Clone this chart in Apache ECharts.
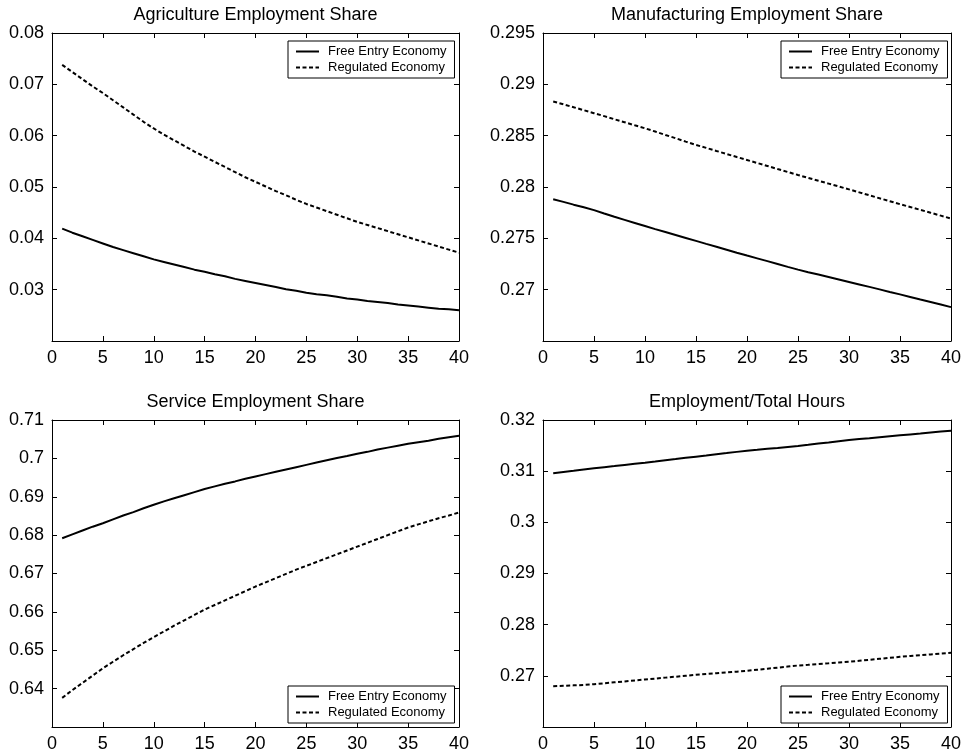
<!DOCTYPE html>
<html>
<head>
<meta charset="utf-8">
<script src="https://cdn.jsdelivr.net/npm/echarts@6/dist/echarts.min.js"></script>
<style>
  html, body { margin: 0; padding: 0; background: #fff; }
  #main { width: 968px; height: 754px; }
</style>
</head>
<body>
<div id="main"></div>
<script>
// periods 1..40
var periods = [1, 2, 3, 4, 5, 6, 7, 8, 9, 10, 11, 12, 13, 14, 15, 16, 17, 18, 19, 20,
    21, 22, 23, 24, 25, 26, 27, 28, 29, 30, 31, 32, 33, 34, 35, 36, 37, 38, 39, 40];
var seriesNames = ['Free Entry Economy', 'Regulated Economy'];
var panelTitles = ['Agriculture Employment Share', 'Manufacturing Employment Share',
    'Service Employment Share', 'Employment/Total Hours'];

// agriculture
var agriFree = [0.0419, 0.0411, 0.0404, 0.0397, 0.0390, 0.0383, 0.0377, 0.0371, 0.0365, 0.0359,
    0.0354, 0.0349, 0.0344, 0.0339, 0.0335, 0.0330, 0.0326, 0.0321, 0.0317, 0.0313,
    0.0309, 0.0305, 0.0301, 0.0298, 0.0294, 0.0291, 0.0289, 0.0286, 0.0283, 0.0281,
    0.0278, 0.0276, 0.0274, 0.0271, 0.0269, 0.0267, 0.0265, 0.0263, 0.0262, 0.0260];
var agriReg = [0.0738, 0.0724, 0.0710, 0.0696, 0.0683, 0.0669, 0.0655, 0.0641, 0.0627, 0.0614,
    0.0602, 0.0591, 0.0580, 0.0569, 0.0559, 0.0549, 0.0539, 0.0529, 0.0519, 0.0510,
    0.0501, 0.0492, 0.0484, 0.0475, 0.0467, 0.0460, 0.0453, 0.0446, 0.0439, 0.0432,
    0.0426, 0.0420, 0.0414, 0.0408, 0.0402, 0.0396, 0.0390, 0.0384, 0.0378, 0.0372];

// manufacturing
var manuFree = [0.27880, 0.27855, 0.27828, 0.27802, 0.27775, 0.27742, 0.27710, 0.27680, 0.27650, 0.27620,
    0.27590, 0.27562, 0.27533, 0.27504, 0.27475, 0.27446, 0.27418, 0.27389, 0.27360, 0.27332,
    0.27305, 0.27278, 0.27250, 0.27222, 0.27195, 0.27170, 0.27147, 0.27123, 0.27099, 0.27075,
    0.27051, 0.27027, 0.27003, 0.26978, 0.26954, 0.26929, 0.26904, 0.26880, 0.26855, 0.26830];
var manuReg = [0.28833, 0.28805, 0.28777, 0.28748, 0.28719, 0.28690, 0.28660, 0.28631, 0.28601, 0.28572,
    0.28540, 0.28507, 0.28475, 0.28442, 0.28410, 0.28381, 0.28351, 0.28322, 0.28292, 0.28263,
    0.28234, 0.28205, 0.28175, 0.28146, 0.28117, 0.28089, 0.28061, 0.28033, 0.28005, 0.27977,
    0.27948, 0.27919, 0.27890, 0.27862, 0.27833, 0.27805, 0.27777, 0.27749, 0.27721, 0.27693];

// services
var servFree = [0.6792, 0.6802, 0.6812, 0.6822, 0.6831, 0.6841, 0.6851, 0.6860, 0.6870, 0.6879,
    0.6888, 0.6896, 0.6904, 0.6912, 0.6920, 0.6927, 0.6934, 0.6940, 0.6947, 0.6953,
    0.6959, 0.6965, 0.6971, 0.6977, 0.6983, 0.6989, 0.6995, 0.7001, 0.7006, 0.7012,
    0.7017, 0.7023, 0.7028, 0.7033, 0.7038, 0.7042, 0.7046, 0.7051, 0.7055, 0.7059];
var servReg = [0.6376, 0.6396, 0.6415, 0.6434, 0.6453, 0.6470, 0.6487, 0.6503, 0.6519, 0.6534,
    0.6549, 0.6564, 0.6578, 0.6592, 0.6606, 0.6618, 0.6630, 0.6642, 0.6654, 0.6666,
    0.6677, 0.6688, 0.6699, 0.6710, 0.6720, 0.6730, 0.6740, 0.6750, 0.6760, 0.6770,
    0.6780, 0.6790, 0.6800, 0.6810, 0.6820, 0.6828, 0.6836, 0.6844, 0.6851, 0.6859];

// employment / total hours
var hoursFree = [0.30957, 0.30982, 0.31006, 0.31031, 0.31055, 0.31077, 0.31099, 0.31122, 0.31144, 0.31166,
    0.31189, 0.31213, 0.31236, 0.31260, 0.31283, 0.31306, 0.31330, 0.31353, 0.31377, 0.31400,
    0.31418, 0.31437, 0.31455, 0.31474, 0.31492, 0.31515, 0.31539, 0.31562, 0.31586, 0.31609,
    0.31627, 0.31645, 0.31664, 0.31682, 0.31700, 0.31718, 0.31736, 0.31755, 0.31773, 0.31791];
var hoursReg = [0.26798, 0.26806, 0.26814, 0.26822, 0.26837, 0.26855, 0.26873, 0.26891, 0.26910, 0.26928,
    0.26946, 0.26965, 0.26983, 0.27002, 0.27020, 0.27036, 0.27051, 0.27067, 0.27082, 0.27098,
    0.27119, 0.27140, 0.27160, 0.27181, 0.27202, 0.27216, 0.27231, 0.27245, 0.27260, 0.27274,
    0.27294, 0.27313, 0.27333, 0.27352, 0.27372, 0.27388, 0.27403, 0.27419, 0.27434, 0.27450];

// y axis ranges (min, max, step) per panel
var yMins = [0.02, 0.265, 0.63, 0.26];
var yMaxs = [0.08, 0.295, 0.71, 0.32];
var ySteps = [0.01, 0.005, 0.01, 0.01];
var xTicks = [0, 40, 5];

var panelData = [[agriFree, agriReg], [manuFree, manuReg], [servFree, servReg], [hoursFree, hoursReg]];

// layout
var grids = [
    { left: 52, top: 33, width: 407, height: 308 },
    { left: 543, top: 33, width: 408, height: 308 },
    { left: 52, top: 420, width: 407, height: 307 },
    { left: 543, top: 420, width: 408, height: 307 }
];
var legendPos = [
    { left: 288, top: 41 },
    { left: 781, top: 41 },
    { left: 288, top: 686 },
    { left: 781, top: 686 }
];

var FONT = 'Liberation Sans, Arial, Helvetica, sans-serif';
var black = '#000';

function pairs(vals) {
    return periods.map(function(t, i) { return [t, vals[i]]; });
}

var option = {
    animation: false,
    backgroundColor: '#fff',
    title: [],
    grid: [],
    legend: [],
    xAxis: [],
    yAxis: [],
    series: []
};

grids.forEach(function(g, i) {
    option.grid.push({ left: g.left, top: g.top, width: g.width, height: g.height, containLabel: false });

    option.title.push({
        text: panelTitles[i],
        left: g.left + g.width / 2,
        top: g.top - 27,
        textAlign: 'center',
        padding: 0,
        textStyle: { fontFamily: FONT, fontSize: 18, fontWeight: 'normal', color: black }
    });

    var axisLine = { show: true, onZero: false, lineStyle: { color: black, width: 1 } };
    var tick = { show: true, inside: true, length: 5, lineStyle: { color: black, width: 1 } };

    // bottom + top x axes
    option.xAxis.push({
        gridIndex: i, type: 'value', position: 'bottom',
        min: xTicks[0], max: xTicks[1], interval: xTicks[2],
        axisLine: axisLine, axisTick: tick, splitLine: { show: false },
        axisLabel: { color: black, fontFamily: FONT, fontSize: 18, margin: 8 }
    });
    option.xAxis.push({
        gridIndex: i, type: 'value', position: 'top',
        min: xTicks[0], max: xTicks[1], interval: xTicks[2],
        axisLine: axisLine, axisTick: tick, splitLine: { show: false },
        axisLabel: { show: false }
    });
    // left + right y axes
    option.yAxis.push({
        gridIndex: i, type: 'value', position: 'left',
        min: yMins[i], max: yMaxs[i], interval: ySteps[i],
        axisLine: axisLine, axisTick: tick, splitLine: { show: false },
        axisLabel: { color: black, fontFamily: FONT, fontSize: 18, margin: 8, showMinLabel: false }
    });
    option.yAxis.push({
        gridIndex: i, type: 'value', position: 'right',
        min: yMins[i], max: yMaxs[i], interval: ySteps[i],
        axisLine: axisLine, axisTick: tick, splitLine: { show: false },
        axisLabel: { show: false }
    });

    option.series.push({
        name: seriesNames[0], type: 'line',
        xAxisIndex: 2 * i, yAxisIndex: 2 * i,
        symbol: 'none', showSymbol: false,
        lineStyle: { color: black, width: 2, type: 'solid' },
        itemStyle: { color: black },
        data: pairs(panelData[i][0])
    });
    option.series.push({
        name: seriesNames[1], type: 'line',
        xAxisIndex: 2 * i, yAxisIndex: 2 * i,
        symbol: 'none', showSymbol: false,
        lineStyle: { color: black, width: 2, type: [4, 2.5] },
        itemStyle: { color: black },
        data: pairs(panelData[i][1])
    });

    option.legend.push({
        data: seriesNames,
        orient: 'vertical',
        left: legendPos[i].left,
        top: legendPos[i].top,
        padding: [4, 8, 4, 7],
        itemWidth: 23,
        itemHeight: 12,
        itemGap: 3,
        borderColor: black,
        borderWidth: 1,
        backgroundColor: '#fff',
        selectedMode: false,
        itemStyle: { opacity: 0 },
        textStyle: { fontFamily: FONT, fontSize: 13, color: black, padding: [0, 0, 0, 4] }
    });
});

var myChart = echarts.init(document.getElementById('main'));
myChart.setOption(option);
</script>
</body>
</html>
